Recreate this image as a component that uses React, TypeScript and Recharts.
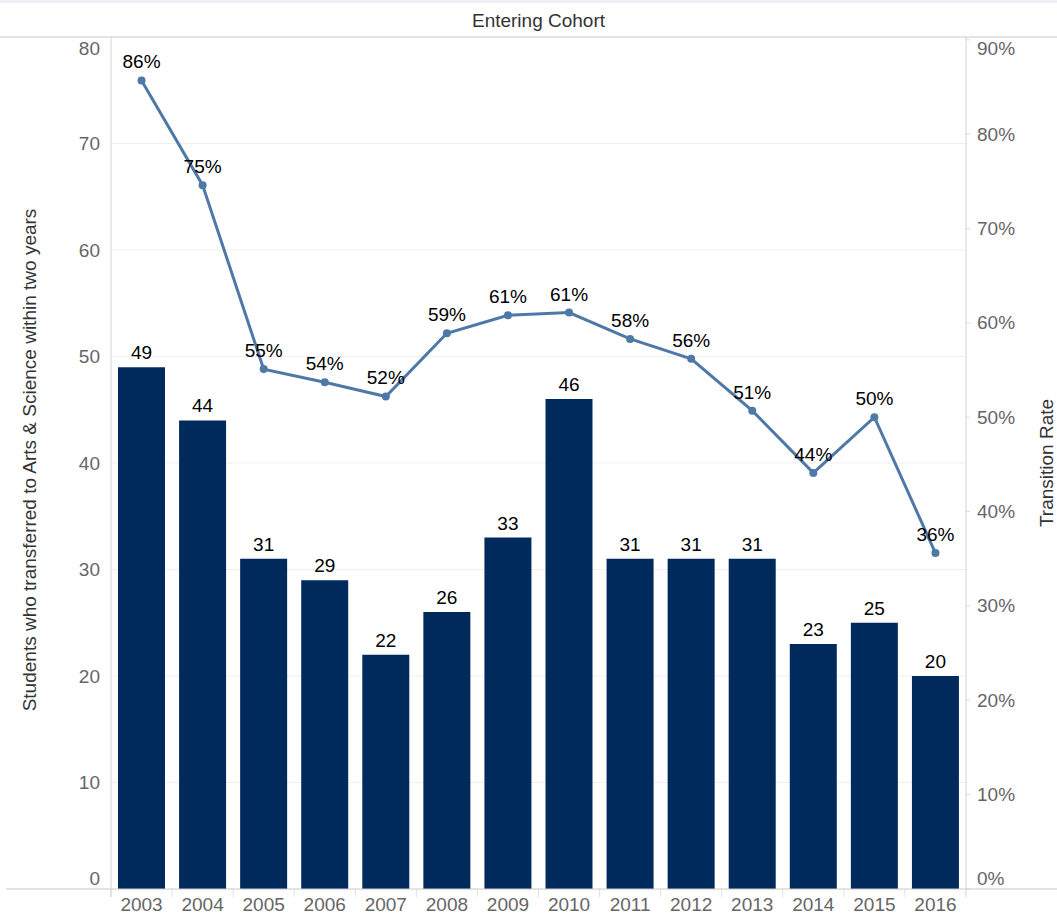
import { Bar, CartesianGrid, ComposedChart, LabelList, Line, XAxis, YAxis } from "recharts";

const cohorts = ["2003", "2004", "2005", "2006", "2007", "2008", "2009", "2010", "2011", "2012", "2013", "2014", "2015", "2016"];
const students = [49, 44, 31, 29, 22, 26, 33, 46, 31, 31, 31, 23, 25, 20];
const transitionRate = [0.857, 0.746, 0.551, 0.537, 0.522, 0.589, 0.608, 0.611, 0.583, 0.562, 0.507, 0.441, 0.5, 0.356];
const leftTicks = [0, 10, 20, 30, 40, 50, 60, 70, 80];
const rightTicks = [0, 0.1, 0.2, 0.3, 0.4, 0.5, 0.6, 0.7, 0.8, 0.9];

const data = cohorts.map((year, i) => ({
  year,
  students: students[i],
  rate: transitionRate[i],
}));

const W = 1057;
const H = 916;
const TOP = 37;
const BOTTOM = 889;
const LEFT = 111;
const RIGHT = 966;
const FONT = "Arial, 'Liberation Sans', sans-serif";
const FS = 19;

const clampY = (y: number) => Math.min(Math.max(y, TOP + 11), BOTTOM - 11);

function LeftTick({ y, payload }: any) {
  return (
    <text x={100} y={clampY(y)} dy={6.5} textAnchor="end" fontSize={FS} fill="#666" fontFamily={FONT}>
      {payload.value}
    </text>
  );
}

function RightTick({ y, payload }: any) {
  return (
    <g>
      <line x1={RIGHT} x2={RIGHT + 4} y1={y} y2={y} stroke="#ddd" />
      <text x={977} y={clampY(y)} dy={6.5} textAnchor="start" fontSize={FS} fill="#666" fontFamily={FONT}>
        {Math.round(payload.value * 100)}%
      </text>
    </g>
  );
}

function BottomTick({ x, y, payload }: any) {
  const half = (RIGHT - LEFT) / cohorts.length / 2;
  return (
    <g>
      <line x1={x - half} x2={x - half} y1={BOTTOM} y2={BOTTOM + 8} stroke="#e2e2e2" />
      <text x={x} y={y} dy={14} textAnchor="middle" fontSize={FS} fill="#666" fontFamily={FONT}>
        {payload.value}
      </text>
    </g>
  );
}

export default function App() {
  return (
    <div style={{ position: "absolute", left: 0, top: 0, width: W, height: H, background: "#fff", fontFamily: FONT }}>
      <ComposedChart
        width={W}
        height={H}
        data={data}
        margin={{ top: TOP, right: 0, bottom: 0, left: 0 }}
      >
        <CartesianGrid yAxisId="left" vertical={false} stroke="#efefef" horizontalValues={[10, 20, 30, 40, 50, 60, 70]} />
        <XAxis
          dataKey="year"
          height={H - BOTTOM}
          axisLine={false}
          tickLine={false}
          tick={<BottomTick />}
          interval={0}
        />
        <YAxis
          yAxisId="left"
          orientation="left"
          width={LEFT}
          domain={[0, 80]}
          ticks={leftTicks}
          axisLine={false}
          tickLine={false}
          tick={<LeftTick />}
          interval={0}
        />
        <YAxis
          yAxisId="right"
          orientation="right"
          width={W - RIGHT}
          domain={[0, 0.903]}
          ticks={rightTicks}
          axisLine={false}
          tickLine={false}
          tick={<RightTick />}
          interval={0}
          allowDataOverflow
        />
        <Bar yAxisId="left" dataKey="students" fill="#002a5c" barSize={47} isAnimationActive={false}>
          <LabelList dataKey="students" position="top" offset={8} fontSize={FS} fill="#000" fontFamily={FONT} />
        </Bar>
        <Line
          yAxisId="right"
          dataKey="rate"
          stroke="#4e79a7"
          strokeWidth={3}
          dot={{ r: 4, fill: "#4e79a7", stroke: "#4e79a7", strokeWidth: 0 }}
          activeDot={false}
          isAnimationActive={false}
        >
          <LabelList
            dataKey="rate"
            position="top"
            offset={12}
            fontSize={FS}
            fill="#000"
            fontFamily={FONT}
            formatter={(v: any) => `${Math.round(Number(v) * 100)}%`}
          />
        </Line>
      </ComposedChart>
      <svg width={W} height={H} style={{ position: "absolute", left: 0, top: 0, pointerEvents: "none" }}>
        <line x1={0} x2={W} y1={1.5} y2={1.5} stroke="#eef2f6" strokeWidth={3} />
        <line x1={0} x2={W} y1={TOP} y2={TOP} stroke="#c8c8c8" />
        <line x1={6} x2={W} y1={BOTTOM} y2={BOTTOM} stroke="#c8c8c8" />
        <line x1={LEFT} x2={LEFT} y1={TOP} y2={BOTTOM + 8} stroke="#d4d4d4" />
        <line x1={RIGHT} x2={RIGHT} y1={TOP} y2={BOTTOM + 8} stroke="#d4d4d4" />
        <text x={(LEFT + RIGHT) / 2} y={27} textAnchor="middle" fontSize={FS} fill="#333" fontFamily={FONT}>
          Entering Cohort
        </text>
        <text
          transform={`translate(36, ${(TOP + BOTTOM) / 2 - 3}) rotate(-90)`}
          textAnchor="middle"
          fontSize={FS}
          fill="#333"
          fontFamily={FONT}
        >
          Students who transferred to Arts &amp; Science within two years
        </text>
        <text
          transform={`translate(1053, ${(TOP + BOTTOM) / 2}) rotate(-90)`}
          textAnchor="middle"
          fontSize={FS}
          fill="#333"
          fontFamily={FONT}
        >
          Transition Rate
        </text>
      </svg>
    </div>
  );
}
